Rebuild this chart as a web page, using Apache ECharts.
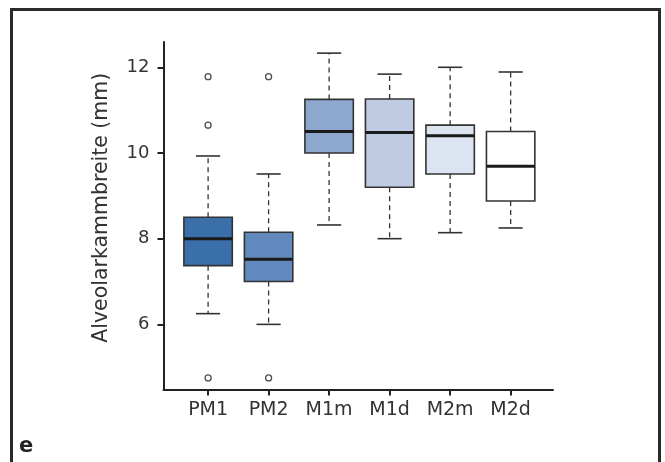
<!DOCTYPE html>
<html>
<head>
<meta charset="utf-8">
<script src="https://cdn.jsdelivr.net/npm/echarts@6/dist/echarts.min.js"></script>
<style>
  html, body { margin: 0; padding: 0; background: #fff; }
  #chart { width: 665px; height: 462px; }
</style>
</head>
<body>
<div id="chart"></div>
<script>
// Werte
const categories = ['PM1', 'PM2', 'M1m', 'M1d', 'M2m', 'M2d'];
const whiskerLow = [6.25, 6.0, 8.32, 8.0, 8.14, 8.25];
const q1 = [7.37, 7.0, 10.0, 9.2, 9.51, 8.88];
const median = [8.0, 7.52, 10.5, 10.48, 10.4, 9.69];
const q3 = [8.5, 8.15, 11.25, 11.26, 10.65, 10.5];
const whiskerHigh = [9.93, 9.51, 12.33, 11.84, 12.0, 11.89];
const outlierCat = [0, 0, 0, 1, 1];
const outlierVal = [11.78, 10.65, 4.75, 11.78, 4.75];
const yTicks = [6, 8, 10, 12];

const boxColors = ['#3b6faa', '#6289bd', '#8ea7cf', '#bfcbe3', '#dce3f1', '#ffffff'];

const chart = echarts.init(document.getElementById('chart'));

const boxData = categories.map((c, i) => [i, whiskerLow[i], q1[i], median[i], q3[i], whiskerHigh[i]]);
const outlierData = outlierCat.map((c, i) => [c, outlierVal[i]]);

function renderBox(params, api) {
  const i = api.value(0);
  const x = api.coord([i, 0])[0];
  const band = api.size([1, 0])[0];
  const half = band * 0.4;
  const capHalf = band * 0.2;
  const yLow = api.coord([i, api.value(1)])[1];
  const yQ1 = api.coord([i, api.value(2)])[1];
  const yMed = api.coord([i, api.value(3)])[1];
  const yQ3 = api.coord([i, api.value(4)])[1];
  const yHigh = api.coord([i, api.value(5)])[1];
  const dash = { stroke: '#333', lineWidth: 1.3, lineDash: [5, 4] };
  const solid = { stroke: '#333', lineWidth: 1.6 };
  return {
    type: 'group',
    children: [
      { type: 'line', shape: { x1: x, y1: yQ1, x2: x, y2: yLow }, style: dash },
      { type: 'line', shape: { x1: x, y1: yQ3, x2: x, y2: yHigh }, style: dash },
      { type: 'line', shape: { x1: x - capHalf, y1: yLow, x2: x + capHalf, y2: yLow }, style: solid },
      { type: 'line', shape: { x1: x - capHalf, y1: yHigh, x2: x + capHalf, y2: yHigh }, style: solid },
      { type: 'rect', shape: { x: x - half, y: yQ3, width: half * 2, height: yQ1 - yQ3 },
        style: { fill: boxColors[i], stroke: '#333', lineWidth: 1.6 } },
      { type: 'line', shape: { x1: x - half, y1: yMed, x2: x + half, y2: yMed },
        style: { stroke: '#1a1a1a', lineWidth: 3 } }
    ]
  };
}

chart.setOption({
  animation: false,
  textStyle: { fontFamily: 'DejaVu Sans' },
  grid: { left: 163.5, right: 112, top: 42, bottom: 72.5 },
  xAxis: {
    type: 'value',
    min: -0.737,
    max: 5.70,
    splitLine: { show: false },
    axisLine: { show: true, onZero: false, lineStyle: { color: '#222', width: 2 } },
    axisTick: { show: true, customValues: [0, 1, 2, 3, 4, 5], length: 6, lineStyle: { color: '#222', width: 2 } },
    axisLabel: {
      customValues: [0, 1, 2, 3, 4, 5],
      formatter: v => categories[Math.round(v)],
      color: '#333', fontSize: 19, margin: 11
    }
  },
  yAxis: {
    type: 'value',
    min: 4.48,
    max: 12.59,
    splitLine: { show: false },
    axisLine: { show: true, onZero: false, lineStyle: { color: '#222', width: 2 } },
    axisTick: { show: true, customValues: yTicks, length: 6, lineStyle: { color: '#222', width: 2 } },
    axisLabel: { customValues: yTicks, color: '#333', fontSize: 18, margin: 14 },
    name: 'Alveolarkammbreite (mm)',
    nameLocation: 'middle',
    nameGap: 51,
    nameTextStyle: { color: '#333', fontSize: 20.5, padding: [0, 0, 0, 16] }
  },
  graphic: [
    { type: 'rect', shape: { x: 11.5, y: 9.5, width: 648, height: 470 },
      style: { fill: 'none', stroke: '#2a2a2a', lineWidth: 3 }, silent: true },
    { type: 'text', left: 19, top: 436,
      style: { text: 'e', fontSize: 21, fontWeight: 'bold', fill: '#222', fontFamily: 'DejaVu Sans' } }
  ],
  series: [
    {
      type: 'custom',
      renderItem: renderBox,
      encode: { x: 0, y: [1, 2, 3, 4, 5] },
      data: boxData,
      clip: false
    },
    {
      type: 'scatter',
      data: outlierData,
      symbol: 'circle',
      symbolSize: 6,
      itemStyle: { color: '#fff', borderColor: '#222', borderWidth: 1.3 }
    }
  ]
});
</script>
</body>
</html>
